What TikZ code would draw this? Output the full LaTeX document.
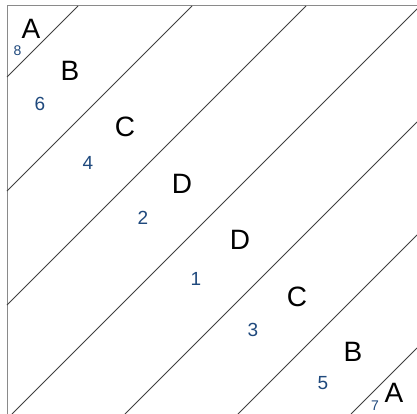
\documentclass[tikz,border=0pt]{standalone}
\usepackage{fontspec}
\setmainfont{Liberation Sans}
\definecolor{numblue}{HTML}{1F497D}
\definecolor{framegray}{HTML}{8A8A8A}
\tikzset{
  letter/.style={font=\fontsize{28}{28}\selectfont, text=black, inner sep=0pt},
  bignum/.style={font=\fontsize{19}{19}\selectfont, text=numblue, inner sep=0pt},
  smallnum/.style={font=\fontsize{14}{14}\selectfont, text=numblue, inner sep=0pt},
  diag/.style={draw=black!75, line width=0.8pt},
  frame/.style={draw=framegray, line width=1pt}
}
\begin{document}
\begin{tikzpicture}[x=1pt,y=-1pt]
\useasboundingbox (0,0) rectangle (417,414);
\fill[white] (0,0) rectangle (417,414);
\clip (0,0) rectangle (417,414);
% frame
\draw[frame] (7,430) -- (7,6) -- (430,6);
% diagonals x+y = const
\coordinate (l1a) at (78,6);   \coordinate (l1b) at (7,77);
\coordinate (l2a) at (192,6);  \coordinate (l2b) at (7,191);
\coordinate (l3a) at (306,6);  \coordinate (l3b) at (7,305);
\coordinate (l4a) at (420,6);  \coordinate (l4b) at (12,414);
\coordinate (l5a) at (417,122);\coordinate (l5b) at (125,414);
\coordinate (l6a) at (417,235);\coordinate (l6b) at (238,414);
\coordinate (l7a) at (417,348);\coordinate (l7b) at (351,414);
\foreach \i in {1,...,7} {\draw[diag] (l\i a) -- (l\i b);}
% letters
\node[letter] (a1) at (31,29) {A};
\node[letter] (b1) at (70,71) {B};
\node[letter] (c1) at (125,127) {C};
\node[letter] (d1) at (182,184) {D};
\node[letter] (d2) at (240,240) {D};
\node[letter] (c2) at (297,297) {C};
\node[letter] (b2) at (353,352) {B};
\node[letter] (a2) at (394,393) {A};
% numbers
\node[smallnum] (n8) at (17.5,51) {8};
\node[bignum] (n6) at (40,104) {6};
\node[bignum] (n4) at (88,163) {4};
\node[bignum] (n2) at (143,218) {2};
\node[bignum] (n1) at (196,279) {1};
\node[bignum] (n3) at (253,330) {3};
\node[bignum] (n5) at (323,383) {5};
\node[smallnum] (n7) at (375,406) {7};
\end{tikzpicture}
\end{document}
